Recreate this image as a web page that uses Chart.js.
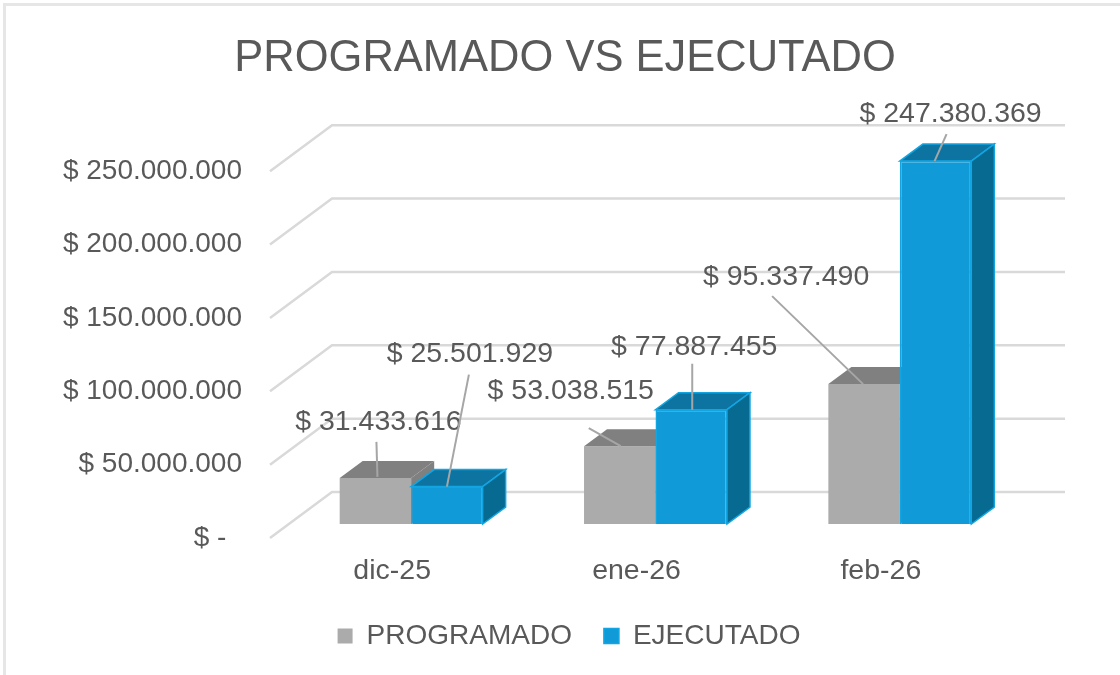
<!DOCTYPE html>
<html>
<head>
<meta charset="utf-8">
<title>Programado vs Ejecutado</title>
<script src="https://cdn.jsdelivr.net/npm/chart.js@4"></script>
<style>
    html, body { margin: 0; padding: 0; background: #fff; }
    #wrap { width: 1120px; height: 675px; position: relative; overflow: hidden; }
    #frame { position: absolute; left: 3px; top: 3px; width: 1130px; height: 690px; border: 3px solid #e6e6e6; box-sizing: border-box; }
    canvas { position: absolute; left: 0; top: 0; }
</style>
</head>
<body>
<div id="wrap">
    <div id="frame"></div>
    <canvas id="chart" width="1120" height="675"></canvas>
</div>
<script>
const TITLE      = 'PROGRAMADO VS EJECUTADO';
const CATEGORIES = ['dic-25', 'ene-26', 'feb-26'];
const PROGRAMADO = [31433616, 53038515, 95337490];
const EJECUTADO  = [25501929, 77887455, 247380369];

// where each data label sits, relative to the top of its bar (leader start/end too)
const LABEL_POS = {
    0: [{ dx: 3, dy: -56, lead: [2, -1, 1, -36] }, { dx: 23, dy: -132, lead: [0, 0, 22, -112] }],
    1: [{ dx: -49, dy: -55, lead: [1, 0, -31, -18] }, { dx: 3, dy: -63, lead: [1, 0, 1, -46] }],
    2: [{ dx: -78, dy: -107, lead: [-1, 0, -92, -88] }, { dx: 15, dy: -47, lead: [-1, 0, 11, -27] }],
};

// fake 3D: front of the floor is the axis plane, bars sit a bit further in
const WALL_DX = 62, WALL_DY = -46;
const BAR_DX  = 19, BAR_DY  = -14;
const DEPTH_DX = 23, DEPTH_DY = -17;

const FACES = [
    { front: '#ababab', top: '#808080', side: '#808080', edge: '#ababab' },
    { front: '#109bd8', top: '#0d74a1', side: '#066a91', edge: '#12a5e2' },
];

function money(v) {
    if (v === 0) return '$ -  ';
    return '$ ' + String(v).replace(/\B(?=(\d{3})+(?!\d))/g, '.');
}

function poly(ctx, pts, fill, stroke) {
    ctx.beginPath();
    pts.forEach((p, i) => i ? ctx.lineTo(p[0], p[1]) : ctx.moveTo(p[0], p[1]));
    ctx.closePath();
    ctx.fillStyle = fill;
    ctx.fill();
    if (stroke) {
        ctx.strokeStyle = stroke;
        ctx.lineWidth = 1.5;
        ctx.stroke();
    }
}

// gridlines: diagonal on the side wall, then straight along the back wall
const wallPlugin = {
    id: 'wall',
    beforeDatasetsDraw(chart) {
        const { ctx, scales: { x, y } } = chart;
        ctx.save();
        ctx.strokeStyle = '#d9d9d9';
        ctx.lineWidth = 2.5;
        y.ticks.forEach(t => {
            const py = y.getPixelForValue(t.value);
            ctx.beginPath();
            ctx.moveTo(x.left, py);
            ctx.lineTo(x.left + WALL_DX, py + WALL_DY);
            ctx.lineTo(x.right + WALL_DX, py + WALL_DY);
            ctx.stroke();
        });
        ctx.restore();
    }
};

// Chart.js paints the first dataset last, here it must be the other way round,
// so the normal draw is skipped and the boxes are painted left to right
const boxPlugin = {
    id: 'box',
    beforeDatasetDraw() {
        return false;
    },
    afterDatasetsDraw(chart) {
        const ctx = chart.ctx;
        chart.data.datasets.forEach((ds, d) => {
            const meta = chart.getDatasetMeta(d);
            const face = FACES[d];
            ctx.save();
            ctx.translate(BAR_DX, BAR_DY);
            meta.controller.draw();
            meta.data.forEach(bar => {
                const l = bar.x - bar.width / 2, r = bar.x + bar.width / 2;
                const t = bar.y, b = bar.base;
                poly(ctx, [[l, t], [r, t], [r + DEPTH_DX, t + DEPTH_DY], [l + DEPTH_DX, t + DEPTH_DY]], face.top, d ? face.edge : null);
                poly(ctx, [[r, t], [r + DEPTH_DX, t + DEPTH_DY], [r + DEPTH_DX, b + DEPTH_DY], [r, b]], face.side, d ? face.edge : null);
            });
            ctx.restore();
        });
    }
};

const labelPlugin = {
    id: 'barLabels',
    afterDatasetsDraw(chart) {
        const ctx = chart.ctx;
        ctx.save();
        chart.data.datasets.forEach((ds, d) => {
            chart.getDatasetMeta(d).data.forEach((bar, i) => {
                const pos = LABEL_POS[i][d];
                const bx = bar.x + BAR_DX, by = bar.y + BAR_DY;
                ctx.strokeStyle = '#a6a6a6';
                ctx.lineWidth = 2;
                ctx.beginPath();
                ctx.moveTo(bx + pos.lead[0], by + pos.lead[1]);
                ctx.lineTo(bx + pos.lead[2], by + pos.lead[3]);
                ctx.stroke();
                ctx.fillStyle = '#595959';
                ctx.font = '28.5px "Liberation Sans"';
                ctx.textAlign = 'center';
                ctx.textBaseline = 'middle';
                ctx.fillText(money(ds.data[i]), bx + pos.dx, by + pos.dy);
            });
        });
        ctx.restore();
    }
};

// legend sits a little right of the title centre in the original
const legendShift = {
    id: 'legendShift',
    afterLayout(chart) {
        chart.legend.left += 4;
        chart.legend.right += 4;
    }
};

new Chart(document.getElementById('chart').getContext('2d'), {
    type: 'bar',
    data: {
        labels: CATEGORIES,
        datasets: [
            { label: 'PROGRAMADO', data: PROGRAMADO, backgroundColor: FACES[0].front, borderWidth: 0 },
            { label: 'EJECUTADO', data: EJECUTADO, backgroundColor: FACES[1].front, borderColor: FACES[1].edge, borderWidth: 1.5 },
        ]
    },
    plugins: [wallPlugin, boxPlugin, labelPlugin, legendShift],
    options: {
        responsive: false,
        animation: false,
        layout: { padding: { left: 10, right: 0, top: 0, bottom: 15 } },
        datasets: { bar: { categoryPercentage: 0.585, barPercentage: 1 } },
        plugins: {
            title: {
                display: true,
                text: TITLE,
                color: '#595959',
                font: { family: '"Liberation Sans"', size: 43.5, weight: 'normal' },
                padding: { top: 33, bottom: 86 },
            },
            legend: {
                position: 'bottom',
                labels: { color: '#595959', boxWidth: 15, boxHeight: 15, padding: 32, font: { family: '"Liberation Sans"', size: 28 } },
            },
            tooltip: { enabled: false },
        },
        scales: {
            x: {
                afterFit: s => { s.height = 52; },
                grid: { display: false },
                border: { display: false },
                ticks: { color: '#595959', padding: 8, maxRotation: 0, font: { family: '"Liberation Sans"', size: 28.5 } },
            },
            y: {
                min: 0, max: 250000000,
                afterFit: s => { s.width = 260; },
                grid: { display: false },
                border: { display: false },
                ticks: {
                    stepSize: 50000000,
                    color: '#595959',
                    padding: 20,
                    callback: v => money(v),
                    font: { family: '"Liberation Sans"', size: 28 },
                },
            },
            // empty axis, only keeps room on the right for the back wall
            yRight: {
                position: 'right',
                afterFit: s => { s.width = 117; },
                grid: { display: false },
                border: { display: false },
                ticks: { display: false },
            }
        }
    }
});
</script>
</body>
</html>
